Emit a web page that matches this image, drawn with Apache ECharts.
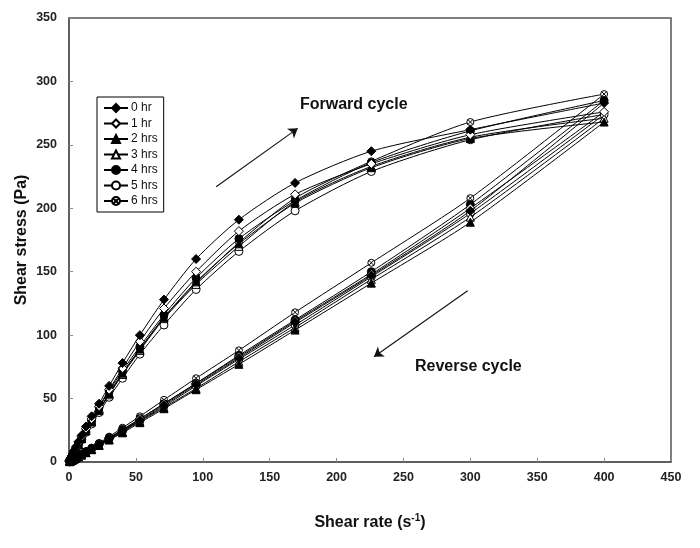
<!DOCTYPE html>
<html>
<head>
<meta charset="utf-8">
<script src="https://cdn.jsdelivr.net/npm/echarts@6/dist/echarts.min.js"></script>
<style>
  html, body { margin: 0; padding: 0; background: #fff; }
  #chart { width: 700px; height: 548px; }
</style>
</head>
<body>
<div id="chart"></div>
<script>
// Shear rates (s^-1), ascending for the forward sweep
const rates = [0.5, 1.3, 2.2, 3.0, 4.0, 5.3, 7.1, 9.5, 12.7, 16.9, 22.5, 30, 40, 53, 71, 95, 127, 169, 226, 300, 400];
// Reverse sweep goes back down from 300 to 0.5 (the 400 point is shared with the forward sweep)
const reverseRates = [300, 226, 169, 127, 95, 71, 53, 40, 30, 22.5, 16.9, 12.7, 9.5, 7.1, 5.3, 4.0, 3.0, 2.2, 1.3, 0.5];

const seriesNames = ['0 hr', '1 hr', '2 hrs', '3 hrs', '4 hrs', '5 hrs', '6 hrs'];

// Shear stress (Pa), forward cycle
const fwd0 = [1.2, 3.0, 5.0, 6.8, 9.0, 12, 16, 21, 28, 36, 46, 60, 78, 100, 128, 160, 191, 220, 245, 262, 283];
const fwd1 = [1.1, 2.8, 4.7, 6.4, 8.5, 11.3, 15, 20, 26.5, 34, 44, 57, 74, 95, 121, 150, 182, 211, 235, 258, 276];
const fwd2 = [1.0, 2.6, 4.4, 6.0, 8.0, 10.6, 14, 18.7, 25, 32, 41, 54, 70, 89, 114, 142, 172, 204, 232, 255, 268];
const fwd3 = [1.0, 2.6, 4.3, 5.9, 7.9, 10.4, 13.8, 18.4, 24.6, 31.5, 40.5, 53, 69, 88, 113, 140, 170, 205, 233, 256, 271];
const fwd4 = [1.05, 2.7, 4.5, 6.2, 8.2, 10.9, 14.5, 19.3, 25.8, 33, 43, 56, 72, 91, 116, 145, 176, 206, 236, 261, 285];
const fwd5 = [0.95, 2.4, 4.1, 5.6, 7.5, 9.9, 13.2, 17.6, 23.5, 30, 39, 51, 66, 85, 108, 136, 166, 198, 229, 254, 274];
const fwd6 = [1.0, 2.6, 4.4, 6.0, 8.0, 10.6, 14.1, 18.8, 25, 32, 41, 54, 70, 89, 114, 141, 173, 208, 237, 268, 290];

// Shear stress (Pa), reverse cycle
const rev0 = [198, 147, 110, 82, 61, 45, 33, 25, 18.5, 14, 10.5, 8, 6, 4.5, 3.4, 2.5, 1.9, 1.4, 0.8, 0.3];
const rev1 = [200, 148, 111, 83, 62, 46, 34, 25.5, 19, 14.3, 10.7, 8.1, 6.1, 4.6, 3.4, 2.6, 1.9, 1.4, 0.8, 0.3];
const rev2 = [189, 141, 104, 77, 57, 42, 31, 23, 17.3, 13, 9.7, 7.3, 5.5, 4.1, 3.1, 2.3, 1.7, 1.3, 0.75, 0.3];
const rev3 = [193, 144, 106, 79, 58, 43, 32, 23.7, 17.8, 13.4, 10, 7.5, 5.6, 4.2, 3.2, 2.4, 1.8, 1.3, 0.8, 0.3];
const rev4 = [203, 150, 112, 84, 62, 46, 34, 25.5, 19, 14.3, 10.7, 8.1, 6.1, 4.6, 3.4, 2.6, 1.9, 1.4, 0.8, 0.3];
const rev5 = [196, 146, 108, 81, 60, 44, 32.5, 24.3, 18.2, 13.7, 10.2, 7.7, 5.8, 4.3, 3.3, 2.5, 1.8, 1.3, 0.8, 0.3];
const rev6 = [208, 157, 118, 88, 66, 49, 36, 27, 20, 15, 11.3, 8.5, 6.4, 4.8, 3.6, 2.7, 2.0, 1.5, 0.9, 0.3];

const forward = [fwd0, fwd1, fwd2, fwd3, fwd4, fwd5, fwd6];
const reverse = [rev0, rev1, rev2, rev3, rev4, rev5, rev6];

// Axis ticks
const xTicks = { min: 0, max: 450, step: 50 };
const yTicks = { min: 0, max: 350, step: 50 };

const FONT = '"Liberation Sans", Arial, sans-serif';

// circle with an x through it
const crossCircle = 'path://M0,10 A10,10 0 1,1 20,10 A10,10 0 1,1 0,10 Z M3,3 L17,17 M17,3 L3,17';

const markerStyles = [
  { symbol: 'diamond', size: 9, fill: '#000' },
  { symbol: 'diamond', size: 9, fill: '#fff' },
  { symbol: 'triangle', size: 8, fill: '#000' },
  { symbol: 'triangle', size: 8, fill: '#fff' },
  { symbol: 'circle', size: 8, fill: '#000' },
  { symbol: 'circle', size: 8, fill: '#fff' },
  { symbol: crossCircle, size: 7, fill: '#fff' }
];

function loopData(i) {
  const pts = rates.map((r, k) => [r, forward[i][k]]);
  reverseRates.forEach((r, k) => pts.push([r, reverse[i][k]]));
  return pts;
}

const series = seriesNames.map((name, i) => ({
  name: name,
  type: 'line',
  data: loopData(i),
  smooth: 0.25,
  showAllSymbol: true,
  symbol: markerStyles[i].symbol,
  symbolSize: markerStyles[i].size,
  itemStyle: { color: markerStyles[i].fill, borderColor: '#000', borderWidth: 1 },
  lineStyle: { color: '#000', width: 1 },
  z: 10 - i
}));

// direction arrows for the two sweeps
series.push({
  name: 'arrows',
  type: 'line',
  data: [],
  markLine: {
    silent: true,
    symbol: ['none', 'arrow'],
    symbolSize: 9,
    label: { show: false },
    lineStyle: { color: '#111', width: 1.1, type: 'solid' },
    data: [
      [{ coord: [110, 217] }, { coord: [171, 263] }],
      [{ coord: [298, 135] }, { coord: [228, 83] }]
    ]
  }
});

const chart = echarts.init(document.getElementById('chart'), null, { renderer: 'canvas' });

chart.setOption({
  animation: false,
  backgroundColor: '#fff',
  grid: {
    left: 69, right: 29, top: 18, bottom: 86,
    show: true, borderColor: '#555', borderWidth: 1.5, backgroundColor: 'transparent'
  },
  legend: {
    data: seriesNames,
    orient: 'vertical',
    left: 97, top: 97,
    padding: [5, 6, 5, 6],
    itemWidth: 24, itemHeight: 10, itemGap: 3.5,
    backgroundColor: '#fff',
    borderColor: '#000', borderWidth: 1,
    textStyle: { fontFamily: FONT, fontSize: 12, color: '#111', padding: [0, 0, 0, -2] }
  },
  xAxis: {
    type: 'value',
    min: xTicks.min, max: xTicks.max, interval: xTicks.step,
    name: '{t|Shear rate (s}{s|-1}{t|)}',
    nameLocation: 'middle', nameGap: 51,
    nameMoveOverlap: false,
    nameTextStyle: {
      rich: {
        t: { fontFamily: FONT, fontSize: 16, fontWeight: 'bold', color: '#111', lineHeight: 20 },
        s: { fontFamily: FONT, fontSize: 10, fontWeight: 'bold', color: '#111', verticalAlign: 'top', lineHeight: 20 }
      }
    },
    axisLine: { show: true, lineStyle: { color: '#555', width: 1.5 } },
    axisTick: { show: true, inside: true, length: 4, lineStyle: { color: '#888' } },
    splitLine: { show: false },
    axisLabel: { fontFamily: FONT, fontSize: 12.5, fontWeight: 'bold', color: '#222', margin: 9 }
  },
  yAxis: {
    type: 'value',
    min: yTicks.min, max: yTicks.max, interval: yTicks.step,
    name: 'Shear stress (Pa)',
    nameLocation: 'middle', nameGap: 39, nameRotate: 90,
    nameMoveOverlap: false,
    nameTextStyle: { fontFamily: FONT, fontSize: 16, fontWeight: 'bold', color: '#111' },
    axisLine: { show: true, lineStyle: { color: '#555', width: 1.5 } },
    axisTick: { show: true, inside: true, length: 4, lineStyle: { color: '#888' } },
    splitLine: { show: false },
    axisLabel: { fontFamily: FONT, fontSize: 12.5, fontWeight: 'bold', color: '#222', margin: 12 }
  },
  graphic: [
    { type: 'text', left: 300, top: 97, style: { text: 'Forward cycle', font: 'bold 16px ' + FONT, fill: '#111' } },
    { type: 'text', left: 415, top: 359, style: { text: 'Reverse cycle', font: 'bold 16px ' + FONT, fill: '#111' } }
  ],
  series: series
});
</script>
</body>
</html>
